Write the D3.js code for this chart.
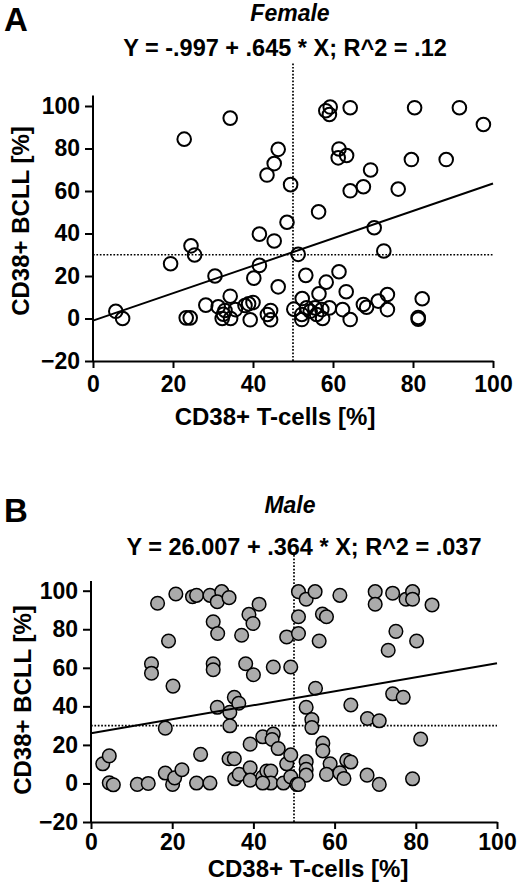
<!DOCTYPE html>
<html lang="en">
<head>
<meta charset="UTF-8" />
<title>CD38+ T-cells vs CD38+ BCLL</title>
<script src="https://cdn.jsdelivr.net/npm/d3@7"></script>
<style>
  body { margin: 0; background: #fff; }
  svg text { font-family: "Liberation Sans", Arial, sans-serif; font-weight: bold; fill: #000; }
</style>
</head>
<body>
<div id="chart"></div>
<script>
// data (x = CD38+ T-cells %, y = CD38+ BCLL %)
const femaleX = [5.7, 7.4, 22.8, 34.3, 46.3, 45.3, 43.5, 49.4, 48.5, 41.6, 45.3, 24.5, 25.4, 19.4, 41.6, 30.5, 40.2, 46.3, 34.3, 28.2,
  31.3, 33, 35.6, 38, 40, 38.9, 32.3, 34.4, 32.6, 39.3, 23.3, 24.3, 43.6, 44.4, 44.4, 50.2, 51.3,
  58.2, 59.3, 59.1, 64.3, 80.4, 91.6, 97.6, 61.5, 61.3, 63.4, 79.6, 88.3, 69.4, 67.6, 64.3, 76.3, 56.4, 70.3, 72.7, 53.2,
  61.5, 58.3, 56.5, 63.3, 52.3, 73.6, 82.3, 71.3, 67.6, 68.4, 73.6, 62.4, 64.3, 81.3, 81.3, 52.2, 52.2, 54.3, 55.5, 55.9,
  57.2, 57.4, 59.1, 53.4];
const femaleY = [3.4, 0, 84.4, 94.3, 79.6, 72.9, 67.5, 63, 45.3, 39.7, 36.5, 34.2, 29.9, 25.8, 25, 20, 19, 14.9, 10.5, 6.3,
  5.5, 3.8, 4.2, 6.1, 7.5, 6.9, 0, 0, 2, -0.6, 0.3, 0.3, 1.9, 3.8, -0.6, 4.4, 30.2,
  97.8, 99.5, 96, 99.2, 99.2, 99.2, 91.3, 79.8, 75.6, 76.7, 74.8, 74.8, 69.9, 62, 60.1, 60.9, 50.2, 42.7, 31.8, 20.3,
  22, 17.1, 11.6, 12.6, 9.4, 11.3, 9.3, 8.2, 6.6, 5.3, 4.2, 4.2, -0.5, 0.5, -0.3, 1.9, -0.5, 3.4, 5, 1.9,
  4.2, 0, 5, 5];

const maleX = [2.9, 4.5, 4.5, 5.5, 11.4, 14.1, 14.9, 14.9, 16.4, 20.9, 19.1, 20.2, 18.3, 18.3, 20.1, 20.6, 22.4, 25, 26, 29.3,
  32.2, 31.1, 34, 27, 26, 29.3, 30.1, 31.2, 30.1, 30.1, 31.1, 34.2, 35.3, 36.4, 34.2, 34, 35.3, 35.4, 36.5, 39.2,
  39.2, 42.3, 43.3, 44.3, 44.3, 42.3, 47.4, 49.2, 50.7, 48.2, 49.2, 39.2, 42.3, 44.9, 44.6, 46.1, 37.1, 38.1, 40, 38.9,
  39.9, 41.4, 44.9, 49.2, 48.2,
  51.1, 53, 55.2, 61.3, 70, 70, 74.3, 77.6, 79.2, 79.2, 84, 51.1, 57, 58, 51.1, 56.2, 75.1, 80.2, 73.2, 55.3,
  74.3, 76.9, 53, 64, 68.1, 71, 54.4, 54.4, 81.2, 57.1, 57.1, 53, 53, 53, 51.1, 58.9, 58, 61.3, 62.3, 63,
  64, 68, 71, 79.2];
const maleY = [10.2, 14.3, 0.3, -0.7, -0.5, 0, 62.1, 57.2, 93.5, 98.3, 73.9, 50.5, 28.7, 5.4, -0.5, 2.9, 7.1, 96.9, 97.6, 97.6,
  99.5, 94.3, 96.4, 15.1, 0.2, 0.2, 83.9, 77.8, 62.1, 59, 39.5, 36.9, 44.7, 41.6, 29.9, 12.8, 12.8, 2.4, 4.7, 8.1,
  1.7, 3.3, 6.4, 6.4, 0.2, 0.2, 0.2, 3.4, -0.5, 10.2, 14.8, 20.4, 24.2, 25.6, 22.8, 18.1, 76.9, 62.1, 56.4, 87.7,
  83, 93, 60.4, 60.4, 76,
  99.5, 95.6, 99.5, 97.6, 99.5, 93, 98.7, 95.6, 99.5, 95.6, 92.6, 86.5, 87.9, 86.5, 77.8, 73.9, 78.9, 73.9, 69.1, 49.4,
  46.5, 44.7, 39.5, 40.7, 33.7, 32.5, 33.1, 29, 23, 20.9, 16.9, 11.3, 7.3, 4.3, -0.5, 10.2, 4.7, 5.5, 2.6, 12,
  11.1, 4.3, -0.5, 2.4];

const xTicks = [0, 20, 40, 60, 80, 100];
const yTicks = [-20, 0, 20, 40, 60, 80, 100];

// fitted lines as printed on the figure
const femaleFit = { a: -0.997, b: 0.645, label: "Y = -.997 + .645 * X; R^2 = .12" };
const maleFit = { a: 26.007, b: 0.364, label: "Y = 26.007 + .364 * X; R^2 = .037" };
const cutX = 50, cutY = 30;

const svg = d3.select("#chart").append("svg")
  .attr("width", 520)
  .attr("height", 890);

function panel(opt) {
  const g = svg.append("g");
  const x = d3.scaleLinear().domain([0, 100]).range(opt.xr);
  const y = d3.scaleLinear().domain([-20, 100]).range(opt.yr);
  const yTop = y(105);

  // panel letter, title, equation
  g.append("text").attr("x", 4).attr("y", opt.letterY)
    .style("font-size", "33px").text(opt.letter);
  g.append("text").attr("x", opt.titleX).attr("y", opt.titleY)
    .attr("text-anchor", "middle").style("font-size", "23px").style("font-style", "italic")
    .text(opt.title);
  g.append("text").attr("x", opt.eqX).attr("y", opt.eqY)
    .attr("text-anchor", "middle").style("font-size", "23.5px")
    .text(opt.fit.label);

  // reference lines
  g.append("line")
    .attr("x1", x(cutX)).attr("x2", x(cutX))
    .attr("y1", y(-20)).attr("y2", y(120))
    .attr("stroke", "#000").attr("stroke-width", 1.7).attr("stroke-dasharray", "1.7,1.7");
  g.append("line")
    .attr("x1", x(0)).attr("x2", x(100))
    .attr("y1", y(cutY)).attr("y2", y(cutY))
    .attr("stroke", "#000").attr("stroke-width", 1.7).attr("stroke-dasharray", "1.7,1.7");

  // axes
  const xa = g.append("g")
    .attr("transform", `translate(0,${y(-20)})`)
    .call(d3.axisBottom(x).tickValues(xTicks).tickSize(7).tickSizeOuter(0).tickPadding(opt.xPad));
  const ya = g.append("g")
    .attr("transform", `translate(${x(0)},0)`)
    .call(d3.axisLeft(y).tickValues(yTicks).tickSize(8).tickSizeOuter(0).tickPadding(5));
  ya.select(".domain").attr("d", `M0,${y(-20)}V${yTop}`);
  [xa, ya].forEach(a => {
    a.select(".domain").attr("stroke", "#000").attr("stroke-width", 2);
    a.selectAll(".tick line").attr("stroke", "#000").attr("stroke-width", 2);
    a.selectAll("text").style("font-size", "23px").style("font-family", "'Liberation Sans', Arial, sans-serif")
      .style("font-weight", "bold").attr("fill", "#000");
  });

  // axis titles
  g.append("text").attr("x", opt.xtX).attr("y", opt.xtY)
    .attr("text-anchor", "middle").style("font-size", "24px")
    .text("CD38+ T-cells [%]");
  g.append("text")
    .attr("transform", `translate(${opt.ytX},${opt.ytY}) rotate(-90)`)
    .attr("text-anchor", "middle").style("font-size", "24px")
    .text("CD38+ BCLL [%]");

  // points
  g.append("g").selectAll("circle")
    .data(d3.range(opt.xs.length))
    .join("circle")
    .attr("cx", i => x(opt.xs[i]))
    .attr("cy", i => y(opt.ys[i]))
    .attr("r", opt.r)
    .attr("fill", opt.fill)
    .attr("stroke", "#000")
    .attr("stroke-width", opt.sw);

  // regression line
  g.append("line")
    .attr("x1", x(0)).attr("y1", y(opt.fit.a))
    .attr("x2", x(100)).attr("y2", y(opt.fit.a + opt.fit.b * 100))
    .attr("stroke", "#000").attr("stroke-width", 2);
}

panel({
  letter: "A", letterY: 31, title: "Female", titleX: 290, titleY: 21,
  fit: femaleFit, eqX: 285, eqY: 56,
  xr: [93, 493], yr: [361, 106], xPad: 8,
  xtX: 275, xtY: 425, ytX: 29, ytY: 221,
  xs: femaleX, ys: femaleY, r: 6.8, fill: "none", sw: 2
});

panel({
  letter: "B", letterY: 522, title: "Male", titleX: 290, titleY: 513,
  fit: maleFit, eqX: 304, eqY: 555,
  xr: [91, 497], yr: [822, 590.7], xPad: 5,
  xtX: 308, xtY: 877, ytX: 31, ytY: 700,
  xs: maleX, ys: maleY, r: 6.8, fill: "#ababab", sw: 1.5
});
</script>
</body>
</html>
